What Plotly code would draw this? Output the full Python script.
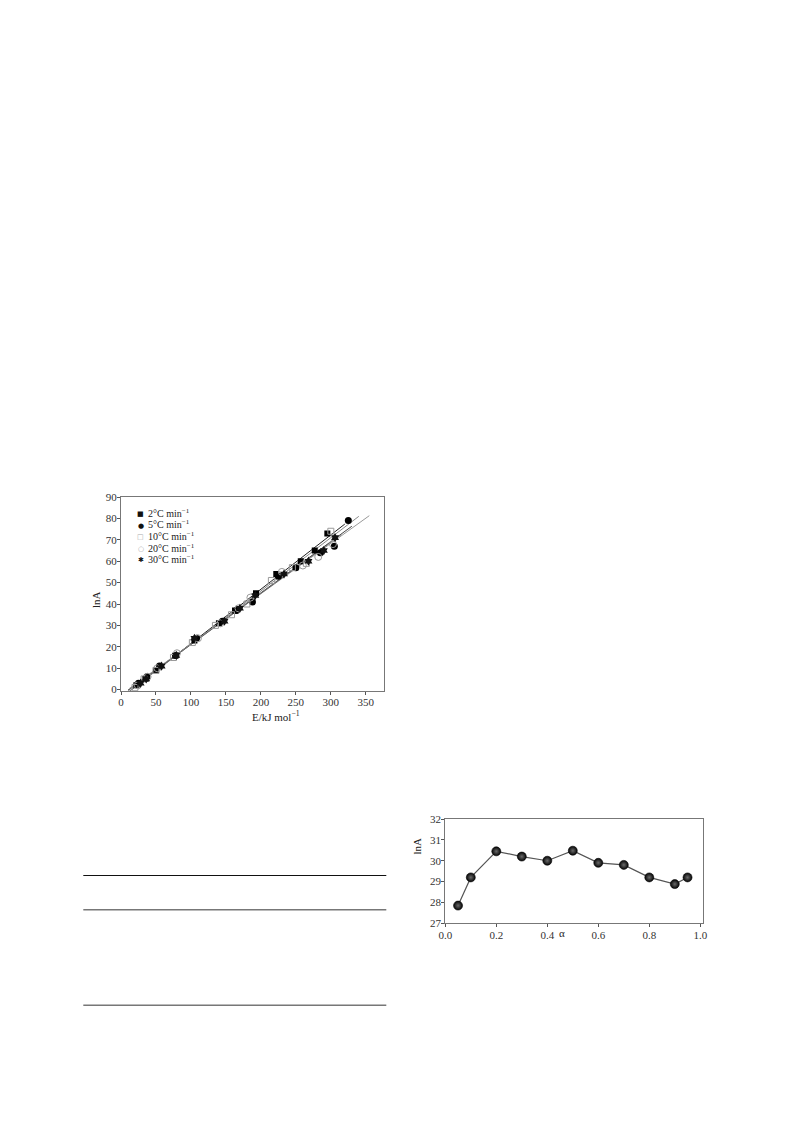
import numpy as np
import plotly.graph_objects as go

# ---------------- Data: chart 1 (lnA vs E) ----------------
series_names = ["2°C min<sup>−1</sup>", "5°C min<sup>−1</sup>", "10°C min<sup>−1</sup>",
                "20°C min<sup>−1</sup>", "30°C min<sup>−1</sup>"]
E_2 = [22, 35, 50, 78, 105, 140, 163, 193, 222, 257, 277, 295]
lnA_2 = [2, 5, 9, 16, 23, 31, 37, 45, 54, 60, 65, 73]
E_5 = [25, 37, 55, 78, 108, 145, 165, 188, 225, 250, 285, 305, 325]
lnA_5 = [3, 6, 11, 16, 24, 32, 37, 41, 53, 57, 64, 67, 79]
E_10 = [20, 33, 50, 75, 102, 135, 158, 180, 215, 245, 265, 300]
lnA_10 = [1, 5, 9, 15, 22, 30, 35, 40, 51, 57, 59, 74]
E_20 = [24, 38, 52, 80, 110, 142, 168, 185, 230, 260, 282, 303]
lnA_20 = [2, 6, 10, 17, 24, 31, 38, 43, 55, 58, 62, 68]
E_30 = [28, 36, 58, 79, 105, 148, 170, 192, 233, 268, 290, 306]
lnA_30 = [3, 5, 11, 16, 24, 32, 38, 44, 54, 60, 65, 71]
fit_x_start = [10, 10, 8, 12, 10]
fit_x_end = [320, 330, 340, 355, 315]

# ---------------- Data: chart 2 (lnA vs alpha) ----------------
alpha = [0.05, 0.1, 0.2, 0.3, 0.4, 0.5, 0.6, 0.7, 0.8, 0.9, 0.95]
lnA_alpha = [27.85, 29.2, 30.45, 30.2, 30.0, 30.48, 29.9, 29.8, 29.2, 28.88, 29.2]

W, H = 793, 1121
def px(x): return x / W
def py(y): return 1 - y / H

FONT = "Liberation Serif"
TXT = "#222222"
fig = go.Figure()

Es = [E_2, E_5, E_10, E_20, E_30]
Ls = [lnA_2, lnA_5, lnA_10, lnA_20, lnA_30]
line_colors = ["#222222", "#444444", "#888888", "#999999", "#666666"]
for i in range(5):
    k, b = np.polyfit(Es[i], Ls[i], 1)
    xs = np.array([fit_x_start[i], fit_x_end[i]])
    fig.add_trace(go.Scatter(x=xs, y=k * xs + b, mode="lines",
                             line=dict(color=line_colors[i], width=1),
                             showlegend=False, xaxis="x", yaxis="y", hoverinfo="skip"))

markers = [
    dict(symbol="square", color="black", size=6),
    dict(symbol="circle", color="black", size=7),
    dict(symbol="square-open", color="#9a9a9a", size=6),
    dict(symbol="circle-open", color="#9a9a9a", size=7),
    dict(symbol="hexagram", color="#111111", size=7),
]
for i in range(5):
    fig.add_trace(go.Scatter(x=Es[i], y=Ls[i], mode="markers", name=series_names[i],
                             marker=markers[i], showlegend=False, xaxis="x", yaxis="y"))

fig.add_trace(go.Scatter(x=alpha, y=lnA_alpha, mode="lines+markers",
                         line=dict(color="#555555", width=1.2),
                         marker=dict(size=9, color="#050505", symbol="circle",
                                     gradient=dict(type="radial", color="#6a6a6a"),
                                     line=dict(color="black", width=0.6)),
                         showlegend=False, xaxis="x2", yaxis="y2"))

axis_common = dict(showgrid=False, zeroline=False, showline=True, mirror=True,
                   linecolor="#777777", linewidth=1, ticks="outside", ticklen=3,
                   tickcolor="#555555", tickfont=dict(family=FONT, size=11, color="#333333"),
                   automargin=False, ticklabelstandoff=-2)

# manual compact legend (text annotations with glyph symbols)
legend_glyphs = ["■", "●", "□", "○", "✱"]
legend_glyph_colors = ["#111111", "#111111", "#aaaaaa", "#aaaaaa", "#111111"]
legend_rows_y = [514, 525.5, 537, 548.5, 560]
annotations = []
for i in range(5):
    annotations.append(dict(text=legend_glyphs[i], x=px(140.7), y=py(legend_rows_y[i]),
                            xref="paper", yref="paper", showarrow=False, xanchor="center",
                            font=dict(family="DejaVu Sans", size=7, color=legend_glyph_colors[i])))
    annotations.append(dict(text=series_names[i], x=px(146), y=py(legend_rows_y[i] - 1), xref="paper",
                            yref="paper", showarrow=False, xanchor="left",
                            font=dict(family=FONT, size=10, color=TXT)))

annotations += [
    dict(text="E/kJ mol<sup>−1</sup>", x=px(250), y=py(716), xref="paper", yref="paper",
         showarrow=False, font=dict(family=FONT, size=11, color=TXT)),
    dict(text="lnA", x=px(88), y=py(600), xref="paper", yref="paper", textangle=-90,
         showarrow=False, font=dict(family=FONT, size=11, color=TXT)),
    dict(text="lnA", x=px(416), y=py(857), xref="paper", yref="paper", textangle=-90,
         showarrow=False, font=dict(family=FONT, size=11, color=TXT)),
    dict(text="α", x=px(567), y=py(941), xref="paper", yref="paper",
         showarrow=False, font=dict(family=FONT, size=11, color=TXT)),
]

fig.update_layout(
    width=W, height=H, autosize=False, margin=dict(l=0, r=0, t=0, b=0, pad=0, autoexpand=False),
    paper_bgcolor="white", plot_bgcolor="white",
    font=dict(family=FONT, color=TXT),
    showlegend=False,
    xaxis=dict(domain=[px(121), px(384)], range=[0, 376], tickvals=list(range(0, 351, 50)),
               anchor="y", **axis_common),
    yaxis=dict(domain=[py(690.7), py(497)], range=[-0.5, 90], tickvals=list(range(0, 91, 10)),
               anchor="x", **axis_common),
    xaxis2=dict(domain=[px(445.3), px(703.3)], range=[0, 1.0118], tickvals=[0, 0.2, 0.4, 0.6, 0.8, 1.0],
                tickformat=".1f", anchor="y2", **axis_common),
    yaxis2=dict(domain=[py(923.3), py(819)], range=[27, 32], tickvals=[27, 28, 29, 30, 31, 32],
                anchor="x2", **axis_common),
    annotations=annotations,
    shapes=[
        dict(type="line", xref="paper", yref="paper", x0=px(83.3), x1=px(386.3), y0=py(875.5), y1=py(875.5),
             line=dict(color="#111111", width=1)),
        dict(type="line", xref="paper", yref="paper", x0=px(83.3), x1=px(386.3), y0=py(909.7), y1=py(909.7),
             line=dict(color="#777777", width=1.5)),
        dict(type="line", xref="paper", yref="paper", x0=px(83.3), x1=px(386.3), y0=py(1005.3), y1=py(1005.3),
             line=dict(color="#777777", width=1.5)),
    ],
)

fig.write_html("out.html",
               config={"responsive": False, "displayModeBar": False},
               post_script="document.body.style.margin='0';document.body.style.overflow='hidden';")
